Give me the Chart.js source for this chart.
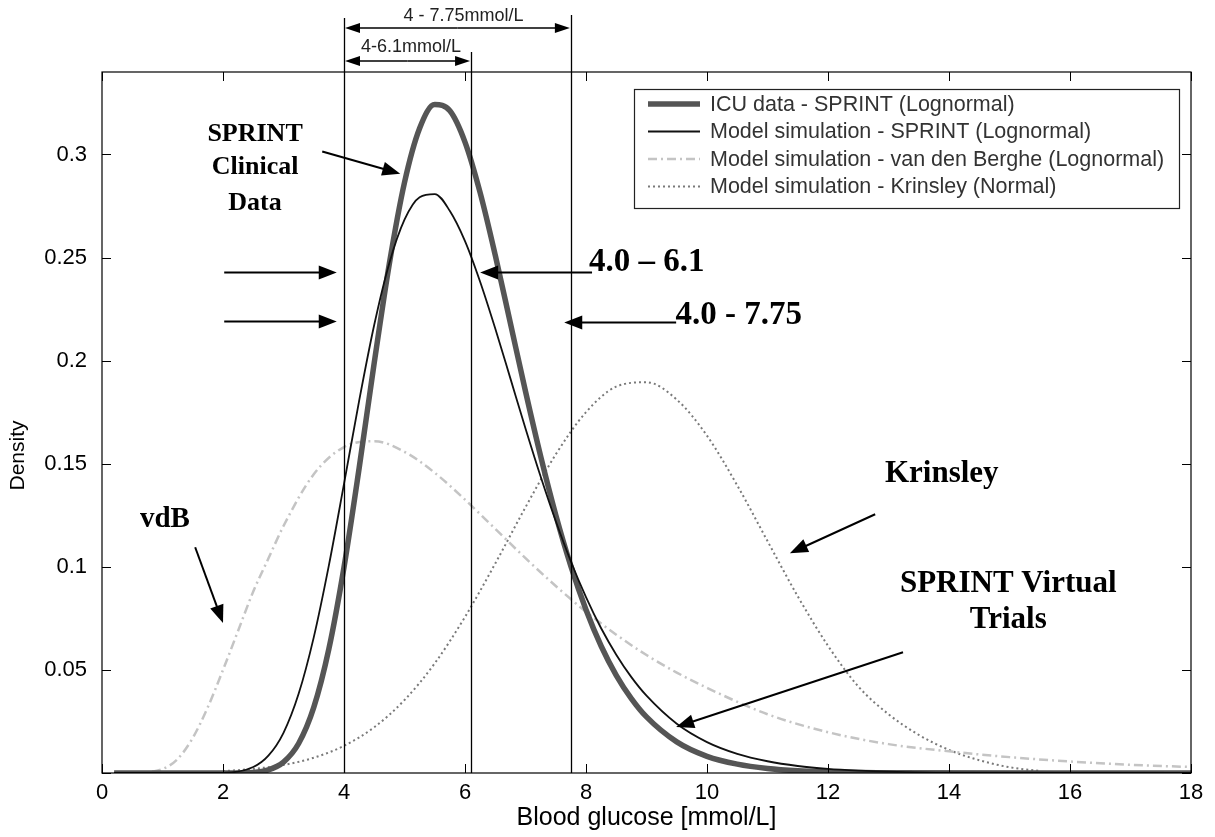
<!DOCTYPE html>
<html>
<head>
<meta charset="utf-8">
<script src="https://cdn.jsdelivr.net/npm/chart.js@4"></script>
<style>
  body { margin: 0; background: #fff; }
  #wrap { width: 1215px; height: 837px; }
</style>
</head>
<body>
<div id="wrap"><canvas id="densityChart" width="1215" height="837"></canvas></div>
<script>
// Valores (densidad vs glucosa en mmol/L)
const icuX = [0.2, 1, 2, 2.5, 2.75, 3, 3.25, 3.5, 3.75, 4, 4.25, 4.5, 4.75, 5, 5.25, 5.5, 5.75, 6, 6.25, 6.5, 6.75, 7, 7.25, 7.5, 7.75, 8, 8.25, 8.5, 8.75, 9, 9.5, 10, 10.5, 11, 11.5, 12, 13, 18];
const icuY = [0, 0, 0, 0.0003, 0.0015, 0.0053, 0.0143, 0.0318, 0.0602, 0.0998, 0.1478, 0.1990, 0.2471, 0.2864, 0.3127, 0.3242, 0.3212, 0.3060, 0.2815, 0.2512, 0.2182, 0.1851, 0.1537, 0.1252, 0.1003, 0.0792, 0.0616, 0.0474, 0.0361, 0.0272, 0.0151, 0.0081, 0.0043, 0.0022, 0.0011, 0.0006, 0.0001, 0];

const simX = [0.2, 1, 2, 2.5, 2.75, 3, 3.25, 3.5, 3.75, 4, 4.25, 4.5, 4.75, 5, 5.25, 5.5, 5.75, 6, 6.25, 6.5, 6.75, 7, 7.25, 7.5, 7.75, 8, 8.25, 8.5, 8.75, 9, 9.5, 10, 10.5, 11, 11.5, 12, 12.5, 13, 14, 18];
const simY = [0, 0, 0.0001, 0.0029, 0.0084, 0.0195, 0.0384, 0.0658, 0.1007, 0.1402, 0.1805, 0.2174, 0.2474, 0.2684, 0.2793, 0.2808, 0.2726, 0.2580, 0.2383, 0.2156, 0.1914, 0.1671, 0.1438, 0.1222, 0.1026, 0.0853, 0.0702, 0.0574, 0.0465, 0.0375, 0.0239, 0.0150, 0.0093, 0.0057, 0.0034, 0.0020, 0.0012, 0.0007, 0.0002, 0];

const vdbX = [0.2, 0.5, 0.75, 1, 1.25, 1.5, 1.75, 2, 2.25, 2.5, 2.75, 3, 3.5, 4, 4.5, 5, 5.5, 6, 6.5, 7, 7.5, 8, 8.5, 9, 9.5, 10, 11, 12, 13, 14, 15, 16, 17, 18];
const vdbY = [0, 0, 0.0003, 0.0019, 0.0068, 0.0170, 0.0320, 0.0500, 0.0690, 0.0880, 0.1040, 0.1198, 0.1449, 0.1581, 0.1609, 0.1558, 0.1456, 0.1326, 0.1184, 0.1042, 0.0907, 0.0782, 0.0671, 0.0572, 0.0487, 0.0413, 0.0285, 0.0198, 0.0140, 0.0105, 0.0077, 0.0056, 0.0040, 0.0029];

const krinX = [2, 2.5, 3, 3.5, 4, 4.5, 5, 5.5, 6, 6.5, 7, 7.5, 8, 8.5, 9, 9.5, 10, 10.5, 11, 11.5, 12, 12.5, 13, 13.5, 14, 14.5, 15, 15.5];
const krinY = [0.0009, 0.0020, 0.0039, 0.0074, 0.0132, 0.0222, 0.0354, 0.0532, 0.0757, 0.1016, 0.1289, 0.1545, 0.1750, 0.1874, 0.1895, 0.1811, 0.1636, 0.1395, 0.1125, 0.0857, 0.0617, 0.0420, 0.0285, 0.0185, 0.0112, 0.0062, 0.0028, 0.0010];

const seriesLabels = [
    'ICU data - SPRINT (Lognormal)',
    'Model simulation - SPRINT (Lognormal)',
    'Model simulation - van den Berghe (Lognormal)',
    'Model simulation - Krinsley (Normal)'
];
const xTicks = [0, 2, 4, 6, 8, 10, 12, 14, 16, 18];
const yTicks = [0, 0.05, 0.1, 0.15, 0.2, 0.25, 0.3];
const bandLines = [4, 6.1, 7.75];

function pts(xs, ys) {
    return xs.map((x, i) => ({ x: x, y: ys[i] }));
}

const SANS = '"Liberation Sans", Arial, sans-serif';
const SERIF = '"Liberation Serif", "Times New Roman", serif';

// Flecha con punta rellena
function arrow(ctx, x1, y1, x2, y2, len, half) {
    const a = Math.atan2(y2 - y1, x2 - x1);
    ctx.beginPath();
    ctx.moveTo(x1, y1);
    ctx.lineTo(x2 - Math.cos(a) * len * 0.8, y2 - Math.sin(a) * len * 0.8);
    ctx.stroke();
    ctx.beginPath();
    ctx.moveTo(x2, y2);
    ctx.lineTo(x2 - Math.cos(a) * len - Math.sin(a) * half, y2 - Math.sin(a) * len + Math.cos(a) * half);
    ctx.lineTo(x2 - Math.cos(a) * len + Math.sin(a) * half, y2 - Math.sin(a) * len - Math.cos(a) * half);
    ctx.closePath();
    ctx.fill();
}

// Marco estilo MATLAB, marcas hacia dentro, leyenda y anotaciones
const matlabDecor = {
    id: 'matlabDecor',
    afterDatasetsDraw(chart) {
        const ctx = chart.ctx;
        const ca = chart.chartArea;
        const xs = chart.scales.x, ys = chart.scales.y;
        const X = v => xs.getPixelForValue(v);
        const Y = v => ys.getPixelForValue(v);

        ctx.save();
        // marco
        ctx.strokeStyle = '#000';
        ctx.lineWidth = 1.2;
        ctx.strokeRect(ca.left, ca.top, ca.right - ca.left, ca.bottom - ca.top);
        ctx.lineWidth = 1;
        ctx.beginPath();
        xTicks.forEach(v => {
            const p = Math.round(X(v)) + 0.5;
            ctx.moveTo(p, ca.bottom); ctx.lineTo(p, ca.bottom - 9);
            ctx.moveTo(p, ca.top); ctx.lineTo(p, ca.top + 9);
        });
        yTicks.forEach(v => {
            const p = Math.round(Y(v)) + 0.5;
            ctx.moveTo(ca.left, p); ctx.lineTo(ca.left + 9, p);
            ctx.moveTo(ca.right, p); ctx.lineTo(ca.right - 9, p);
        });
        ctx.stroke();

        // título del eje y (un poco por debajo del centro, como en el original)
        ctx.fillStyle = '#000';
        ctx.font = '21px ' + SANS;
        ctx.textAlign = 'center';
        ctx.textBaseline = 'middle';
        ctx.save();
        ctx.translate(18, Y(0.154));
        ctx.rotate(-Math.PI / 2);
        ctx.fillText('Density', 0, 0);
        ctx.restore();

        // líneas verticales de los rangos
        ctx.strokeStyle = '#000';
        ctx.lineWidth = 1.3;
        const tops = [ca.top - 54, ca.top - 20, ca.top - 57];
        bandLines.forEach((v, i) => {
            const p = Math.round(X(v)) + 0.5;
            ctx.beginPath();
            ctx.moveTo(p, tops[i]);
            ctx.lineTo(p, ca.bottom);
            ctx.stroke();
        });

        // flechas dobles de arriba
        ctx.fillStyle = '#000';
        ctx.lineWidth = 1.3;
        const ya = ca.top - 44, yb = ca.top - 11;
        const mid1 = (X(4) + X(7.75)) / 2;
        arrow(ctx, mid1, ya, X(7.75) - 1, ya, 15, 5);
        arrow(ctx, mid1, ya, X(4) + 1, ya, 15, 5);
        const mid2 = (X(4) + X(6.1)) / 2;
        arrow(ctx, mid2, yb, X(6.1) - 1, yb, 15, 5);
        arrow(ctx, mid2, yb, X(4) + 1, yb, 15, 5);
        ctx.fillStyle = '#222';
        ctx.font = '18px ' + SANS;
        ctx.textAlign = 'center';
        ctx.fillText('4 - 7.75mmol/L', mid1 + 6, ca.top - 56);
        ctx.textAlign = 'left';
        ctx.fillText('4-6.1mmol/L', X(4.28), ca.top - 25);

        // anotaciones con flechas
        ctx.fillStyle = '#000';
        ctx.strokeStyle = '#000';
        ctx.lineWidth = 2;
        const arrows = [
            [3.64, 0.3014, 4.93, 0.2907],
            [2.02, 0.2427, 3.88, 0.2427],
            [2.02, 0.2190, 3.88, 0.2190],
            [8.10, 0.2427, 6.25, 0.2427],
            [9.49, 0.2185, 7.64, 0.2185],
            [1.54, 0.1095, 2.00, 0.0727],
            [12.78, 0.1255, 11.37, 0.1066],
            [13.24, 0.0586, 9.49, 0.0223]
        ];
        arrows.forEach(a => arrow(ctx, X(a[0]), Y(a[1]), X(a[2]), Y(a[3]), 18, 7));

        ctx.font = 'bold 26px ' + SERIF;
        ctx.textAlign = 'center';
        ctx.fillText('SPRINT', X(2.53), Y(0.310));
        ctx.fillText('Clinical', X(2.53), Y(0.2936));
        ctx.fillText('Data', X(2.53), Y(0.2762));
        ctx.font = 'bold 29px ' + SERIF;
        ctx.fillText('vdB', X(1.04), Y(0.1231));
        ctx.font = 'bold 31px ' + SERIF;
        ctx.fillText('Krinsley', X(13.88), Y(0.1449));
        ctx.fillText('SPRINT Virtual', X(14.98), Y(0.0916));
        ctx.fillText('Trials', X(14.98), Y(0.0741));
        ctx.font = 'bold 33px ' + SERIF;
        ctx.textAlign = 'left';
        ctx.fillText('4.0 \u2013 6.1', X(8.05), Y(0.2476));
        ctx.fillText('4.0 - 7.75', X(9.48), Y(0.2219));

        // leyenda
        const bx = ca.right - 557, by = ca.top + 17, bw = 545, bh = 119;
        ctx.fillStyle = '#fff';
        ctx.fillRect(bx, by, bw, bh);
        ctx.strokeStyle = '#222';
        ctx.lineWidth = 1.2;
        ctx.strokeRect(bx + 0.5, by + 0.5, bw, bh);
        ctx.font = '21.5px ' + SANS;
        ctx.textAlign = 'left';
        chart.data.datasets.forEach((ds, i) => {
            const ry = by + 15 + i * 27.5;
            ctx.strokeStyle = ds.borderColor;
            ctx.lineWidth = ds.borderWidth;
            ctx.setLineDash(ds.borderDash || []);
            ctx.beginPath();
            ctx.moveTo(bx + 14, ry);
            ctx.lineTo(bx + 66, ry);
            ctx.stroke();
            ctx.setLineDash([]);
            ctx.fillStyle = '#333';
            ctx.fillText(ds.label, bx + 76, ry + 1);
        });
        ctx.restore();
    }
};

const ctx = document.getElementById('densityChart');

new Chart(ctx, {
    type: 'line',
    data: {
        datasets: [
            {
                label: seriesLabels[0],
                data: pts(icuX, icuY),
                borderColor: '#555555',
                borderWidth: 5.5,
                order: 2
            },
            {
                label: seriesLabels[1],
                data: pts(simX, simY),
                borderColor: '#111111',
                borderWidth: 1.8,
                order: 1
            },
            {
                label: seriesLabels[2],
                data: pts(vdbX, vdbY),
                borderColor: '#c4c4c4',
                borderWidth: 2.5,
                borderDash: [9, 4, 2, 4],
                order: 3
            },
            {
                label: seriesLabels[3],
                data: pts(krinX, krinY),
                borderColor: '#7a7a7a',
                borderWidth: 2,
                borderDash: [2, 3],
                order: 4
            }
        ]
    },
    options: {
        responsive: false,
        animation: false,
        layout: { padding: { top: 72, right: 24, left: 0, bottom: 0 } },
        elements: {
            point: { radius: 0 },
            line: { cubicInterpolationMode: 'monotone', fill: false }
        },
        scales: {
            x: {
                type: 'linear',
                min: 0,
                max: 18,
                afterBuildTicks: axis => { axis.ticks = xTicks.map(v => ({ value: v })); },
                afterFit: axis => { axis.height = 64; },
                grid: { display: false, drawTicks: false },
                border: { display: false },
                ticks: {
                    color: '#000',
                    padding: 7,
                    maxRotation: 0,
                    font: { family: SANS, size: 22 }
                },
                title: {
                    display: true,
                    text: 'Blood glucose [mmol/L]',
                    color: '#000',
                    padding: { top: 0, bottom: 4 },
                    font: { family: SANS, size: 25 }
                }
            },
            y: {
                min: 0,
                max: 0.34,
                afterBuildTicks: axis => { axis.ticks = yTicks.map(v => ({ value: v })); },
                afterFit: axis => { axis.width = 102; },
                grid: { display: false, drawTicks: false },
                border: { display: false },
                ticks: {
                    color: '#000',
                    padding: 15,
                    font: { family: SANS, size: 22 },
                    callback: v => (v === 0 ? '' : String(v))
                },
                title: { display: false }
            }
        },
        plugins: {
            legend: { display: false },
            tooltip: { enabled: false }
        }
    },
    plugins: [matlabDecor]
});
</script>
</body>
</html>
